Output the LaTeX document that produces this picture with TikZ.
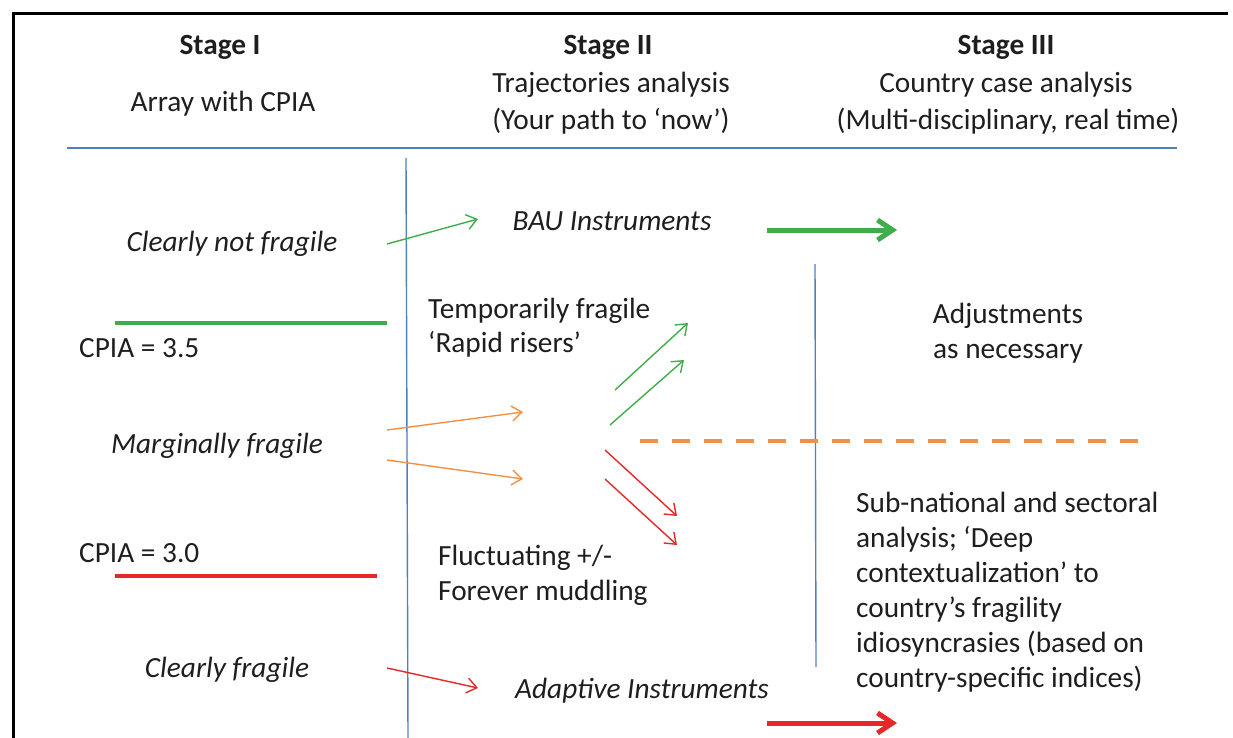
\documentclass[tikz,border=0pt]{standalone}
\usepackage{fontspec}
\setmainfont{Carlito}
\usetikzlibrary{arrows.meta}
\definecolor{lineblue}{RGB}{79,129,189}
\definecolor{mygreen}{RGB}{64,172,76}
\definecolor{myorange}{RGB}{242,145,70}
\definecolor{myred}{RGB}{230,40,40}
\definecolor{textc}{RGB}{30,30,30}
\tikzset{
  txt/.style={inner sep=0pt, text=textc, font=\fontsize{29.3}{35}\selectfont, anchor=base},
  ltxt/.style={txt, anchor=base west},
  itxt/.style={txt, font=\fontsize{29.3}{35}\selectfont\itshape},
  btxt/.style={txt, font=\fontsize{29.3}{35}\selectfont\bfseries},
  thin arrow/.style={line width=1.4pt, -{Straight Barb[length=10pt,width=15pt,line width=1.4pt]}},
  thick arrow/.style={line width=5pt, -{Straight Barb[length=15pt,width=20pt,line width=5pt]}},
  threshold/.style={line width=4.5pt},
  divider/.style={lineblue, line width=1.4pt},
}
\begin{document}
\begin{tikzpicture}[x=1pt,y=-1pt]
\useasboundingbox (0,0) rectangle (1233,738);
% frame
\draw[line width=3pt, black] (13,738) -- (13,14) -- (1228,14);
% headers
\node[btxt] (s1) at (220,55) {Stage I};
\node[txt] (s1a) at (223,112) {Array with CPIA};
\node[btxt] (s2) at (608,55) {Stage II};
\node[txt] (s2a) at (611,93) {Trajectories analysis};
\node[txt] (s2b) at (611,130) {(Your path to ‘now’)};
\node[btxt] (s3) at (1006,55) {Stage III};
\node[txt] (s3a) at (1006,93) {Country case analysis};
\node[txt] (s3b) at (1008,130) {(Multi-disciplinary, real time)};
% dividers
\coordinate (hl) at (67,148); \coordinate (hr) at (1177,148);
\draw[divider] (hl) -- (hr);
\coordinate (v1t) at (406,158); \coordinate (v1b) at (408,738);
\draw[divider] (v1t) -- (v1b);
\coordinate (v2t) at (815,264); \coordinate (v2b) at (816,667);
\draw[divider] (v2t) -- (v2b);
% stage I
\node[itxt] (cnf) at (232,251) {Clearly not fragile};
\coordinate (g1a) at (115,323); \coordinate (g1b) at (387,323);
\draw[threshold, mygreen] (g1a) -- (g1b);
\node[ltxt] (c35) at (79,357) {CPIA = 3.5};
\node[itxt] (mf) at (217,453) {Marginally fragile};
\node[ltxt] (c30) at (79,562) {CPIA = 3.0};
\coordinate (r1a) at (115,576); \coordinate (r1b) at (377,576);
\draw[threshold, myred] (r1a) -- (r1b);
\node[itxt] (cf) at (227,677) {Clearly fragile};
% stage II
\node[itxt] (bau) at (612,230) {BAU Instruments};
\node[ltxt] (tf1) at (428,318) {Temporarily fragile};
\node[ltxt] (tf2) at (428,352) {‘Rapid risers’};
\node[ltxt] (fl1) at (438,565) {Fluctuating +/-};
\node[ltxt] (fl2) at (438,600) {Forever muddling};
\node[itxt] (ai) at (642,698) {Adaptive Instruments};
% stage III
\node[txt] (adj1) at (1008,323) {Adjustments};
\node[txt] (adj2) at (1008,358) {as necessary};
\node[ltxt] (sn1) at (856,512) {Sub-national and sectoral};
\node[ltxt] (sn2) at (856,547) {analysis; ‘Deep};
\node[ltxt] (sn3) at (856,582) {contextualization’ to};
\node[ltxt] (sn4) at (856,617) {country’s fragility};
\node[ltxt] (sn5) at (856,652) {idiosyncrasies (based on};
\node[ltxt] (sn6) at (856,687) {country-specific indices)};
% orange dashed separator
\coordinate (da) at (640,441); \coordinate (db) at (1148,441);
\draw[myorange, line width=4.5pt, dash pattern=on 18pt off 14pt] (da) -- (db);
% arrows
\coordinate (ga0) at (387,244); \coordinate (ga1) at (478,219);
\draw[thin arrow, mygreen] (ga0) -- (ga1);
\coordinate (gt0) at (767,230); \coordinate (gt1) at (897,230);
\draw[thick arrow, mygreen] (gt0) -- (gt1);
\coordinate (gu0) at (615,390); \coordinate (gu1) at (688,323);
\draw[thin arrow, mygreen] (gu0) -- (gu1);
\coordinate (gv0) at (610,425); \coordinate (gv1) at (684,360);
\draw[thin arrow, mygreen] (gv0) -- (gv1);
\coordinate (oa0) at (387,430); \coordinate (oa1) at (523,412);
\draw[thin arrow, myorange] (oa0) -- (oa1);
\coordinate (ob0) at (387,460); \coordinate (ob1) at (523,479);
\draw[thin arrow, myorange] (ob0) -- (ob1);
\coordinate (ra0) at (605,450); \coordinate (ra1) at (677,516);
\draw[thin arrow, myred] (ra0) -- (ra1);
\coordinate (rb0) at (605,479); \coordinate (rb1) at (677,545);
\draw[thin arrow, myred] (rb0) -- (rb1);
\coordinate (rc0) at (387,668); \coordinate (rc1) at (478,688);
\draw[thin arrow, myred] (rc0) -- (rc1);
\coordinate (rt0) at (767,723); \coordinate (rt1) at (897,723);
\draw[thick arrow, myred] (rt0) -- (rt1);
\end{tikzpicture}
\end{document}
